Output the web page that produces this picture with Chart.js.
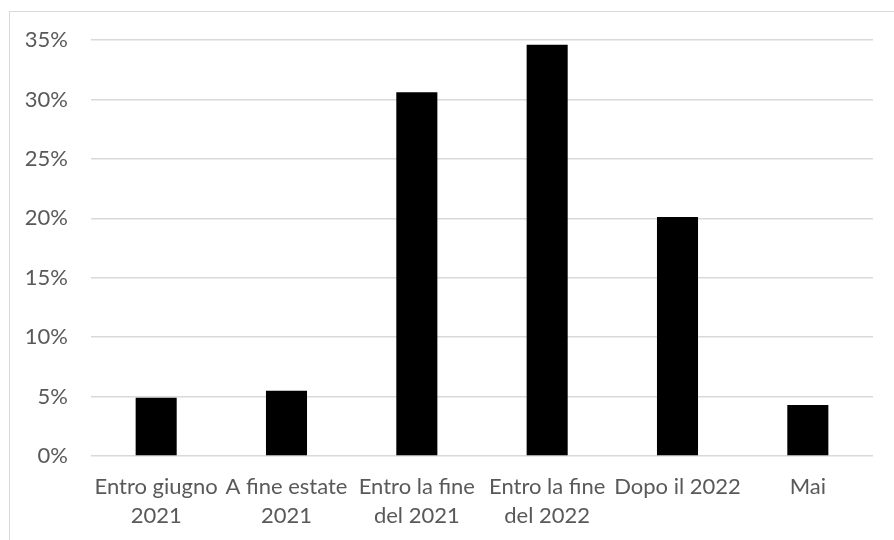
<!DOCTYPE html>
<html>
<head>
<meta charset="utf-8">
<script src="https://cdn.jsdelivr.net/npm/chart.js@4.4.1/dist/chart.umd.min.js"></script>
<style>
  html, body { margin: 0; padding: 0; background: #fff; }
  body { width: 894px; height: 540px; position: relative; overflow: hidden; }
  .frame { position: absolute; left: 9px; top: 11px; width: 1000px; height: 700px;
           border-left: 1.5px solid #d9d9d9; border-top: 1.5px solid #d9d9d9; }
  #chart { position: absolute; left: 0; top: 0; }
</style>
</head>
<body>
<div class="frame"></div>
<canvas id="chart" width="894" height="540"></canvas>
<script>
// Quando pensi che torneremo alla normalità?
const categories = [
  ['Entro giugno', '2021'],
  ['A fine estate', '2021'],
  ['Entro la fine', 'del 2021'],
  ['Entro la fine', 'del 2022'],
  'Dopo il 2022',
  'Mai'
];
const shares = [4.9, 5.5, 30.6, 34.6, 20.1, 4.3];
const yTicksMax = 35;
const yTicksStep = 5;

const labelFont = { family: 'Lato, "Open Sans", sans-serif', size: 22, lineHeight: 1.3 };

new Chart(document.getElementById('chart'), {
  type: 'bar',
  data: {
    labels: categories,
    datasets: [{
      data: shares,
      backgroundColor: '#000000',
      borderWidth: 0,
      categoryPercentage: 1,
      barPercentage: 0.315
    }]
  },
  options: {
    responsive: false,
    animation: false,
    layout: { padding: { top: 40, right: 21, bottom: 0, left: 0 } },
    plugins: {
      legend: { display: false },
      tooltip: { enabled: false }
    },
    scales: {
      x: {
        grid: { display: false },
        border: { display: false },
        ticks: {
          color: '#595959',
          font: labelFont,
          padding: 9,
          autoSkip: false,
          maxRotation: 0,
          minRotation: 0
        },
        afterFit: (scale) => { scale.height = 84; }
      },
      y: {
        min: 0,
        max: yTicksMax,
        grid: { color: '#d9d9d9', lineWidth: 1.5, drawTicks: false },
        border: { display: false },
        ticks: {
          stepSize: yTicksStep,
          color: '#595959',
          font: labelFont,
          padding: 23,
          callback: (v) => v + '%'
        },
        afterFit: (scale) => { scale.width = 91; }
      }
    }
  }
});
</script>
</body>
</html>
